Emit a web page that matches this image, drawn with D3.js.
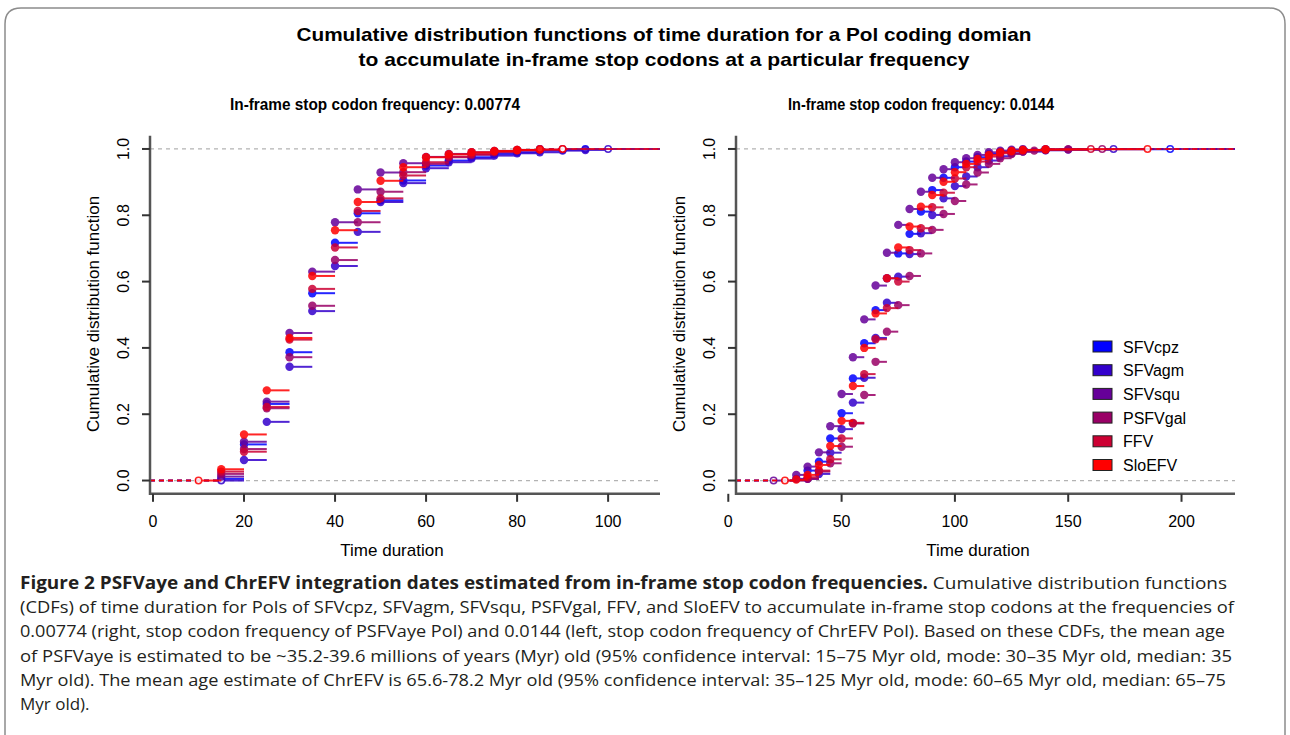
<!DOCTYPE html>
<html>
<head>
<meta charset="utf-8">
<script src="https://d3js.org/d3.v7.min.js"></script>
<style>
  body { margin: 0; background: #fff; }
  text { font-family: "Liberation Sans", Arial, sans-serif; }
  .caption { font-family: "Open Sans", "Noto Sans", sans-serif; font-size: 17px; fill: #231f20; }
</style>
</head>
<body>
<script>
// series names and colours (blue -> red ramp)
const seriesNames = ["SFVcpz", "SFVagm", "SFVsqu", "PSFVgal", "FFV", "SloEFV"];
const seriesColors = ["#0000FF", "#3300CC", "#660099", "#990066", "#CC0033", "#FF0000"];

// left panel: stop codon frequency 0.00774, [time, cdf] at each jump
const left_SFVcpz = [[15,0.005],[20,0.109],[25,0.231],[30,0.387],[35,0.565],[40,0.717],[45,0.806],[50,0.845],[55,0.905],[60,0.950],[65,0.965],[70,0.975],[75,0.985],[80,0.990],[85,0.995],[90,0.998],[95,1]];
const left_SFVagm = [[15,0.0],[20,0.062],[25,0.177],[30,0.343],[35,0.511],[40,0.647],[45,0.750],[50,0.840],[55,0.897],[60,0.942],[65,0.960],[70,0.971],[75,0.980],[80,0.987],[85,0.990],[90,0.995],[95,0.997],[100,1]];
const left_SFVsqu = [[15,0.012],[20,0.117],[25,0.238],[30,0.445],[35,0.630],[40,0.779],[45,0.878],[50,0.929],[55,0.957],[60,0.976],[65,0.985],[70,0.990],[75,0.994],[80,0.997],[85,1]];
const left_PSFVgal = [[15,0.020],[20,0.095],[25,0.218],[30,0.372],[35,0.527],[40,0.665],[45,0.779],[50,0.871],[55,0.930],[60,0.955],[65,0.975],[70,0.982],[75,0.990],[80,0.995],[85,0.998],[90,1]];
const left_FFV = [[15,0.027],[20,0.087],[25,0.222],[30,0.425],[35,0.578],[40,0.703],[45,0.813],[50,0.851],[55,0.920],[60,0.960],[65,0.977],[70,0.985],[75,0.992],[80,0.997],[85,1]];
const left_SloEFV = [[10,0],[15,0.034],[20,0.139],[25,0.272],[30,0.430],[35,0.617],[40,0.755],[45,0.840],[50,0.904],[55,0.945],[60,0.975],[65,0.984],[70,0.990],[75,0.994],[80,0.997],[85,0.998],[90,1]];

// right panel: stop codon frequency 0.0144
const right_SFVcpz = [[30,0.005],[35,0.030],[40,0.057],[45,0.127],[50,0.203],[55,0.308],[60,0.414],[65,0.514],[70,0.610],[75,0.685],[80,0.744],[85,0.811],[90,0.876],[95,0.913],[100,0.945],[105,0.962],[110,0.975],[115,0.985],[120,0.991],[125,0.995],[130,0.997],[140,0.999],[195,1]];
const right_SFVagm = [[35,0.005],[40,0.020],[45,0.084],[50,0.155],[55,0.235],[60,0.310],[65,0.430],[70,0.536],[75,0.615],[80,0.683],[85,0.746],[90,0.801],[95,0.851],[100,0.888],[105,0.917],[110,0.945],[115,0.965],[120,0.978],[125,0.987],[130,0.992],[140,0.996],[150,0.998],[170,1]];
const right_SFVsqu = [[20,0],[30,0.017],[35,0.042],[40,0.085],[45,0.164],[50,0.261],[55,0.372],[60,0.486],[65,0.588],[70,0.687],[75,0.771],[80,0.819],[85,0.871],[90,0.913],[95,0.939],[100,0.960],[105,0.972],[110,0.982],[115,0.990],[120,0.995],[125,0.998],[130,1]];
const right_PSFVgal = [[35,0.005],[40,0.027],[45,0.052],[50,0.102],[55,0.172],[60,0.258],[65,0.358],[70,0.449],[75,0.529],[80,0.617],[85,0.685],[90,0.756],[95,0.804],[100,0.843],[105,0.893],[110,0.929],[115,0.955],[120,0.972],[125,0.985],[130,0.992],[135,0.995],[140,0.997],[150,0.999],[165,1]];
const right_FFV = [[35,0.010],[40,0.030],[45,0.064],[50,0.127],[55,0.174],[60,0.321],[65,0.426],[70,0.520],[75,0.600],[80,0.695],[85,0.761],[90,0.824],[95,0.868],[100,0.911],[105,0.945],[110,0.962],[115,0.977],[120,0.987],[125,0.993],[130,0.996],[140,0.998],[160,1]];
const right_SloEFV = [[25,0],[30,0.003],[35,0.017],[40,0.047],[45,0.104],[50,0.180],[55,0.285],[60,0.400],[65,0.504],[70,0.610],[75,0.703],[80,0.766],[85,0.826],[90,0.861],[95,0.901],[100,0.930],[105,0.955],[110,0.970],[115,0.982],[120,0.990],[125,0.994],[130,0.997],[140,0.999],[185,1]];

// tick labels
const yTicks = [0, 0.2, 0.4, 0.6, 0.8, 1.0];
const leftXTicks = [0, 20, 40, 60, 80, 100];
const rightXTicks = [0, 50, 100, 150, 200];

const titleLines = ["Cumulative distribution functions of time duration for a Pol coding domian",
                    "to accumulate in-frame stop codons at a particular frequency"];
const titleWidths = [735, 611];
const panelTitles = ["In-frame stop codon frequency: 0.00774", "In-frame stop codon frequency: 0.0144"];

const captionBold = "Figure 2 PSFVaye and ChrEFV integration dates estimated from in-frame stop codon frequencies.";
const captionLines = [
  " Cumulative distribution functions",
  "(CDFs) of time duration for Pols of SFVcpz, SFVagm, SFVsqu, PSFVgal, FFV, and SloEFV to accumulate in-frame stop codons at the frequencies of",
  "0.00774 (right, stop codon frequency of PSFVaye Pol) and 0.0144 (left, stop codon frequency of ChrEFV Pol). Based on these CDFs, the mean age",
  "of PSFVaye is estimated to be ~35.2-39.6 millions of years (Myr) old (95% confidence interval: 15\u201375 Myr old, mode: 30\u201335 Myr old, median: 35",
  "Myr old). The mean age estimate of ChrEFV is 65.6-78.2 Myr old (95% confidence interval: 35\u2013125 Myr old, mode: 60\u201365 Myr old, median: 65\u201375",
  "Myr old)."
];
const captionWidths = [1207, 1214, 1205, 1212, 1206, null];

const svg = d3.select("body").append("svg")
    .attr("width", 1290)
    .attr("height", 735);

// outer frame with rounded top corners
svg.append("path")
    .attr("d", "M5,740 L5,24 Q5,8 21,8 L1269,8 Q1285,8 1285,24 L1285,740")
    .attr("fill", "none")
    .attr("stroke", "#8c8c8c")
    .attr("stroke-width", 1.5);

// main title
svg.selectAll(".main-title")
    .data(titleLines)
    .enter().append("text")
    .attr("class", "main-title")
    .attr("x", 664)
    .attr("y", (d, i) => 41 + i * 25)
    .attr("text-anchor", "middle")
    .attr("textLength", (d, i) => titleWidths[i])
    .attr("lengthAdjust", "spacingAndGlyphs")
    .style("font-size", "19px")
    .style("font-weight", "bold")
    .text(d => d);

const yScale = d3.scaleLinear().domain([-0.04, 1.04]).range([493.8, 135.7]);

function drawPanel(cfg) {
    const x = d3.scaleLinear().domain(cfg.xDomain).range(cfg.xRange);
    const g = svg.append("g");
    const left = cfg.xRange[0], right = cfg.xRange[1];

    // grey dashed lines at 0 and 1
    g.selectAll(".ref")
        .data([0, 1])
        .enter().append("line")
        .attr("x1", left).attr("x2", right)
        .attr("y1", d => yScale(d)).attr("y2", d => yScale(d))
        .attr("stroke", "#b3b3b3")
        .attr("stroke-width", 1.2)
        .attr("stroke-dasharray", "4,4");

    // step functions, one per series
    cfg.data.forEach(function(pts, s) {
        const col = seriesColors[s];
        const sg = g.append("g").attr("opacity", 0.85);
        // dashed lead-in and tail
        sg.append("line")
            .attr("x1", left).attr("x2", x(pts[0][0]))
            .attr("y1", yScale(0)).attr("y2", yScale(0))
            .attr("stroke", col).attr("stroke-width", 1.5)
            .attr("stroke-dasharray", "5,4");
        sg.append("line")
            .attr("x1", x(pts[pts.length - 1][0])).attr("x2", right)
            .attr("y1", yScale(1)).attr("y2", yScale(1))
            .attr("stroke", col).attr("stroke-width", 1.5)
            .attr("stroke-dasharray", "5,4");
        // horizontal steps
        const segs = pts.slice(0, -1).map((p, i) => [p[0], pts[i + 1][0], p[1]]);
        sg.selectAll(".seg")
            .data(segs)
            .enter().append("line")
            .attr("x1", d => x(d[0])).attr("x2", d => x(d[1]))
            .attr("y1", d => yScale(d[2])).attr("y2", d => yScale(d[2]))
            .attr("stroke", col)
            .attr("stroke-width", 2);
        // jump points, hollow where they sit on 0 or 1
        sg.selectAll(".pt")
            .data(pts)
            .enter().append("circle")
            .attr("cx", d => x(d[0]))
            .attr("cy", d => yScale(d[1]))
            .attr("r", d => (d[1] === 0 || d[1] === 1) ? 3.2 : 4.2)
            .attr("fill", d => (d[1] === 0 || d[1] === 1) ? "#fff" : col)
            .attr("stroke", col)
            .attr("stroke-width", d => (d[1] === 0 || d[1] === 1) ? 1.5 : 0);
    });

    // L-shaped box
    g.append("path")
        .attr("d", "M" + left + "," + yScale(1.04) + " L" + left + "," + yScale(-0.04) + " L" + right + "," + yScale(-0.04))
        .attr("fill", "none")
        .attr("stroke", "#555")
        .attr("stroke-width", 2.5);

    // y ticks and labels
    g.selectAll(".ytick")
        .data(yTicks)
        .enter().append("line")
        .attr("x1", left - 8).attr("x2", left)
        .attr("y1", d => yScale(d)).attr("y2", d => yScale(d))
        .attr("stroke", "#333").attr("stroke-width", 2);
    g.selectAll(".ylab")
        .data(yTicks)
        .enter().append("text")
        .attr("transform", d => "translate(" + (left - 21) + "," + yScale(d) + ") rotate(-90)")
        .attr("text-anchor", "middle")
        .style("font-size", "16px")
        .text(d => d3.format(".1f")(d));

    // x ticks and labels
    g.selectAll(".xtick")
        .data(cfg.xTicks)
        .enter().append("line")
        .attr("x1", d => x(d)).attr("x2", d => x(d))
        .attr("y1", yScale(-0.04)).attr("y2", yScale(-0.04) + 8)
        .attr("stroke", "#333").attr("stroke-width", 2);
    g.selectAll(".xlab")
        .data(cfg.xTicks)
        .enter().append("text")
        .attr("x", d => x(d))
        .attr("y", 527)
        .attr("text-anchor", "middle")
        .style("font-size", "16px")
        .text(d => d);

    // axis titles
    g.append("text")
        .attr("x", cfg.xTitleX)
        .attr("y", 556)
        .attr("text-anchor", "middle")
        .style("font-size", "17px")
        .text("Time duration");
    g.append("text")
        .attr("transform", "translate(" + (left - 51) + ",314) rotate(-90)")
        .attr("text-anchor", "middle")
        .style("font-size", "17px")
        .text("Cumulative distribution function");

    // panel title
    g.append("text")
        .attr("x", cfg.titleX)
        .attr("y", 110)
        .attr("text-anchor", "middle")
        .attr("textLength", cfg.titleWidth)
        .attr("lengthAdjust", "spacingAndGlyphs")
        .style("font-size", "17px")
        .style("font-weight", "bold")
        .text(cfg.title);

    return g;
}

drawPanel({
    xDomain: [-0.66, 111.4], xRange: [150, 660],
    data: [left_SFVcpz, left_SFVagm, left_SFVsqu, left_PSFVgal, left_FFV, left_SloEFV],
    xTicks: leftXTicks, xTitleX: 392, titleX: 375, titleWidth: 290, title: panelTitles[0]
});

const gr = drawPanel({
    xDomain: [3.4, 223.6], xRange: [736, 1235],
    data: [right_SFVcpz, right_SFVagm, right_SFVsqu, right_PSFVgal, right_FFV, right_SloEFV],
    xTicks: rightXTicks, xTitleX: 978, titleX: 921, titleWidth: 266, title: panelTitles[1]
});

// legend
const legend = gr.selectAll(".legend")
    .data(seriesNames)
    .enter().append("g")
    .attr("transform", (d, i) => "translate(1093," + (346.5 + i * 23.7) + ")");
legend.append("rect")
    .attr("y", -5.5)
    .attr("width", 19).attr("height", 11)
    .attr("fill", (d, i) => seriesColors[i])
    .attr("stroke", "#222").attr("stroke-width", 1);
legend.append("text")
    .attr("x", 30).attr("y", 6)
    .style("font-size", "16px")
    .text(d => d);

// caption
const cap = svg.append("g");
const first = cap.append("text")
    .attr("class", "caption")
    .attr("x", 20).attr("y", 589)
    .attr("textLength", captionWidths[0])
    .attr("lengthAdjust", "spacingAndGlyphs");
first.append("tspan").style("font-weight", "bold").text(captionBold);
first.append("tspan").text(captionLines[0]);
captionLines.slice(1).forEach(function(line, i) {
    const t = cap.append("text")
        .attr("class", "caption")
        .attr("x", 20).attr("y", 613 + i * 24.3)
        .text(line);
    if (captionWidths[i + 1]) t.attr("textLength", captionWidths[i + 1]).attr("lengthAdjust", "spacingAndGlyphs");
});
</script>
</body>
</html>
